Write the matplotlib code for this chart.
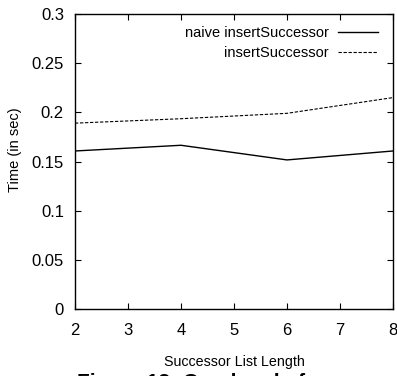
import matplotlib
matplotlib.use("Agg")
import matplotlib.pyplot as plt

FONT = "Liberation Sans"

x = [2, 4, 6, 8]
naive = [0.1607, 0.1665, 0.1516, 0.1607]
insert = [0.189, 0.1935, 0.199, 0.215]
labels = ["naive insertSuccessor", "insertSuccessor"]
xticks = [2, 3, 4, 5, 6, 7, 8]
yticks = [0, 0.05, 0.1, 0.15, 0.2, 0.25, 0.3]

fig = plt.figure(figsize=(3.97, 3.76), dpi=100)
ax = fig.add_axes([75/397, 1-309/376, (393-75)/397, (309-14)/376])

ax.plot(x, naive, color="black", lw=1.0, label=labels[0])
ax.plot(x, insert, color="black", lw=0.8, dashes=(3, 1.5), label=labels[1])

ax.set_xlim(2, 8)
ax.set_ylim(0, 0.3)
ax.set_xticks(xticks)
ax.set_yticks(yticks)
ax.set_xticklabels([str(v) for v in xticks], fontfamily=FONT, fontsize=12)
ax.set_yticklabels([f"{v:g}" for v in yticks], fontfamily=FONT, fontsize=12)
ax.tick_params(direction="in", length=4, width=0.8, top=True, right=True)
ax.tick_params(axis="x", pad=10)
ax.tick_params(axis="y", pad=8)
for s in ax.spines.values():
    s.set_linewidth(1.0)

ax.set_ylabel("Time (in sec)", fontfamily=FONT, fontsize=10.5)
ax.yaxis.set_label_coords(-60/318, (309-150)/295)
ax.set_xlabel("Successor List Length", fontfamily=FONT, fontsize=10.3)
ax.xaxis.set_label_coords(0.5, -(362-309)/295)
ax.xaxis.label.set_va("center")
ax.yaxis.label.set_va("center")

leg = ax.legend(loc="upper right", bbox_to_anchor=(1, 1 + 3/295),
                frameon=False, markerfirst=False,
                prop={"family": FONT, "size": 10.5}, handlelength=2.75,
                handletextpad=0.6, labelspacing=0.4, borderaxespad=0.6,
                borderpad=0.45)

fig.text(77/397, 1-373/376, "Figure 13: Overhead of", fontfamily=FONT,
         fontweight="bold", fontsize=15, va="top", ha="left")

fig.savefig("out.png", dpi=100)
